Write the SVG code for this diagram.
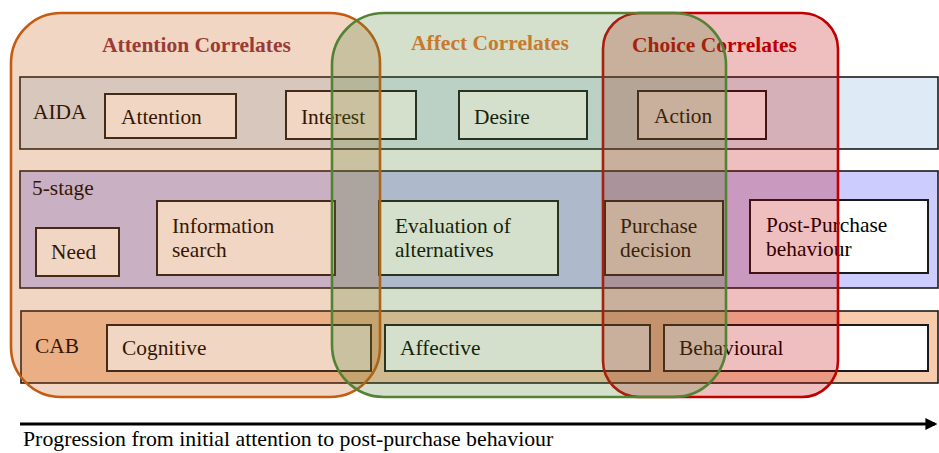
<svg xmlns="http://www.w3.org/2000/svg" width="939" height="453" viewBox="0 0 939 453">
  <style>
    text { font-family: "Liberation Serif", "Times New Roman", serif; font-size: 21.4px; fill: #000; }
    .row { stroke: #1a1a1a; stroke-width: 1.6; }
    .node { fill: #ffffff; stroke: #1a1a1a; stroke-width: 2; }
    .title { font-weight: bold; font-size: 21.5px; }
    .zone { stroke-width: 2.6; }
    .caption { font-size: 21.8px; }
  </style>
  <defs>
    <marker id="arrowhead" viewBox="0 0 10 10" refX="8" refY="5" markerWidth="4" markerHeight="4" orient="auto">
      <path d="M0,0 L10,5 L0,10 z" fill="#000"/>
    </marker>
  </defs>

  <!-- model rows -->
  <g id="row-aida">
    <rect class="row" x="20" y="77" width="918" height="72" fill="#DEEBF7"/>
    <text x="33" y="119">AIDA</text>
  </g>
  <g id="row-5stage">
    <rect class="row" x="20" y="171" width="918" height="117" fill="#CCCCFF"/>
    <text x="32" y="195">5-stage</text>
  </g>
  <g id="row-cab">
    <rect class="row" x="21" y="311" width="917" height="72" fill="#F8CBAD"/>
    <text x="35" y="353">CAB</text>
  </g>

  <!-- AIDA stages -->
  <g id="node-attention">
    <rect class="node" x="105" y="94" width="131" height="44"/>
    <text x="121" y="124">Attention</text>
  </g>
  <g id="node-interest">
    <rect class="node" x="286" y="91" width="130" height="48"/>
    <text x="301" y="124">Interest</text>
  </g>
  <g id="node-desire">
    <rect class="node" x="459" y="91" width="128" height="48"/>
    <text x="474" y="124">Desire</text>
  </g>
  <g id="node-action">
    <rect class="node" x="638" y="91" width="128" height="48"/>
    <text x="654" y="123">Action</text>
  </g>

  <!-- 5-stage model -->
  <g id="node-need">
    <rect class="node" x="36" y="228" width="83" height="48"/>
    <text x="51" y="259">Need</text>
  </g>
  <g id="node-information-search">
    <rect class="node" x="157" y="201" width="178" height="74"/>
    <text x="172" y="233">Information</text>
    <text x="172" y="257">search</text>
  </g>
  <g id="node-evaluation">
    <rect class="node" x="379" y="201" width="179" height="74"/>
    <text x="395" y="233">Evaluation of</text>
    <text x="395" y="257">alternatives</text>
  </g>
  <g id="node-purchase-decision">
    <rect class="node" x="605" y="201" width="118" height="74"/>
    <text x="620" y="233">Purchase</text>
    <text x="620" y="257">decision</text>
  </g>
  <g id="node-post-purchase">
    <rect class="node" x="750" y="200" width="178" height="73"/>
    <text x="766" y="232">Post-Purchase</text>
    <text x="766" y="256">behaviour</text>
  </g>

  <!-- CAB model -->
  <g id="node-cognitive">
    <rect class="node" x="107" y="325" width="264" height="46"/>
    <text x="122" y="355">Cognitive</text>
  </g>
  <g id="node-affective">
    <rect class="node" x="385" y="325" width="265" height="46"/>
    <text x="400" y="355">Affective</text>
  </g>
  <g id="node-behavioural">
    <rect class="node" x="664" y="325" width="264" height="46"/>
    <text x="679" y="355">Behavioural</text>
  </g>

  <!-- correlate zones, translucent overlays -->
  <g id="zone-attention">
    <rect class="zone" x="11" y="13" width="369" height="384" rx="50" ry="50" fill="#C55A11" fill-opacity="0.25" stroke="#C55A11"/>
    <text class="title" x="102" y="52" style="fill:#9B3B37">Attention Correlates</text>
  </g>
  <g id="zone-choice">
    <rect class="zone" x="603" y="13" width="235" height="384" rx="36" ry="36" fill="#C00000" fill-opacity="0.25" stroke="#C00000"/>
    <text class="title" x="632" y="52" style="fill:#C00000">Choice Correlates</text>
  </g>
  <g id="zone-affect">
    <rect class="zone" x="332" y="13" width="394" height="384" rx="52" ry="52" fill="#548235" fill-opacity="0.25" stroke="#548235"/>
    <text class="title" x="411" y="50" style="fill:#C77A2E">Affect Correlates</text>
  </g>

  <!-- progression axis -->
  <g id="connectors">
    <line x1="20" y1="424" x2="935" y2="424" stroke="#000" stroke-width="3" marker-end="url(#arrowhead)"/>
  </g>
  <text class="caption" x="23" y="446">Progression from initial attention to post-purchase behaviour</text>
</svg>
